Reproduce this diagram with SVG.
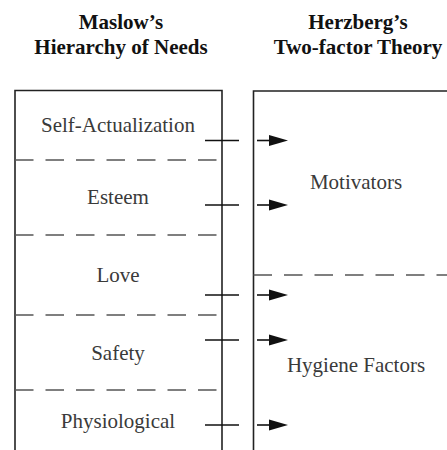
<svg xmlns="http://www.w3.org/2000/svg" width="447" height="450" viewBox="0 0 447 450">
<defs>
<style>
.title{font-family:"Liberation Serif","Times New Roman",serif;font-weight:bold;font-size:21px;fill:#111;text-anchor:middle}
.lbl{font-family:"Liberation Serif","Times New Roman",serif;font-size:21px;fill:#3a3a3a;text-anchor:middle}
.box{fill:none;stroke:#222;stroke-width:1.6}
.dash{stroke:#555;stroke-width:1.6;stroke-dasharray:18.5 12}
.tick{stroke:#111;stroke-width:1.6}
.arr{stroke:#111;stroke-width:1.6}
.head{fill:#111}
</style>
</defs>
<rect width="447" height="450" fill="#fff"/>
<g id="title-maslow">
<text class="title" x="121" y="29">Maslow’s</text>
<text class="title" x="121" y="54">Hierarchy of Needs</text>
</g>
<g id="title-herzberg">
<text class="title" x="358" y="29">Herzberg’s</text>
<text class="title" x="358" y="54">Two-factor Theory</text>
</g>
<g id="maslow-box">
<path class="box" d="M15,450 V90.5 H222 V450"/>
<line class="dash" x1="15" y1="160" x2="219" y2="160"/>
<line class="dash" x1="15" y1="235" x2="219" y2="235"/>
<line class="dash" x1="15" y1="315" x2="219" y2="315"/>
<line class="dash" x1="15" y1="390" x2="219" y2="390"/>
</g>
<g id="self-actualization"><text class="lbl" x="118" y="132">Self-Actualization</text></g>
<g id="esteem"><text class="lbl" x="118" y="204">Esteem</text></g>
<g id="love"><text class="lbl" x="118" y="282">Love</text></g>
<g id="safety"><text class="lbl" x="118" y="360">Safety</text></g>
<g id="physiological"><text class="lbl" x="118" y="428">Physiological</text></g>
<g id="herzberg-box">
<path class="box" d="M253.5,450 V91 H447"/>
<line class="dash" x1="253.5" y1="275" x2="447" y2="275"/>
</g>
<g id="motivators"><text class="lbl" x="356" y="189">Motivators</text></g>
<g id="hygiene-factors"><text class="lbl" x="356" y="372">Hygiene Factors</text></g>
<g id="connectors">
<line class="tick" x1="205" y1="140.5" x2="239" y2="140.5"/>
<line class="tick" x1="205" y1="205" x2="239" y2="205"/>
<line class="tick" x1="205" y1="295" x2="239" y2="295"/>
<line class="tick" x1="205" y1="340" x2="239" y2="340"/>
<line class="tick" x1="205" y1="425" x2="239" y2="425"/>
<line class="arr" x1="257" y1="140.5" x2="270" y2="140.5"/>
<path class="head" d="M269,135 L288,140.5 L269,146 Z"/>
<line class="arr" x1="257" y1="205" x2="270" y2="205"/>
<path class="head" d="M269,199.5 L288,205 L269,210.5 Z"/>
<line class="arr" x1="257" y1="295" x2="270" y2="295"/>
<path class="head" d="M269,289.5 L288,295 L269,300.5 Z"/>
<line class="arr" x1="257" y1="340" x2="270" y2="340"/>
<path class="head" d="M269,334.5 L288,340 L269,345.5 Z"/>
<line class="arr" x1="257" y1="425" x2="270" y2="425"/>
<path class="head" d="M269,419.5 L288,425 L269,430.5 Z"/>
</g>
</svg>
